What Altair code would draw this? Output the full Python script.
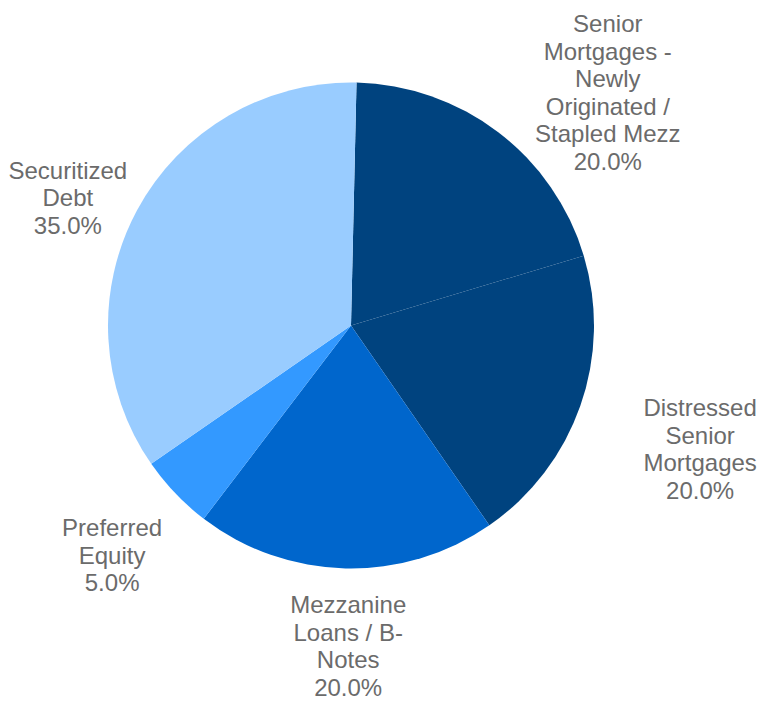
import math
import altair as alt
import pandas as pd

categories = [
    "Senior Mortgages - Newly Originated / Stapled Mezz",
    "Distressed Senior Mortgages",
    "Mezzanine Loans / B-Notes",
    "Preferred Equity",
    "Securitized Debt",
]
label_lines = [
    ["Senior", "Mortgages -", "Newly", "Originated /", "Stapled Mezz"],
    ["Distressed", "Senior", "Mortgages"],
    ["Mezzanine", "Loans / B-", "Notes"],
    ["Preferred", "Equity"],
    ["Securitized", "Debt"],
]
shares = [20.0, 20.0, 20.0, 5.0, 35.0]
colors = ["#00437f", "#00437f", "#0066cc", "#3399ff", "#99ccff"]

total = sum(shares)
df = pd.DataFrame({
    "idx": list(range(len(categories))),
    "category": categories,
    "share": shares,
    "label": ["\n".join(l + [f"{s / total:.1%}"]) for l, s in zip(label_lines, shares)],
})

# label placement tweaks (radius, dx, dy) per slice
label_pos = [(300, 75, 7), (300, 66, 26), (300, 4, 22), (300, -22, 24), (300, -19, 16)]
LH = 27.5

CX, CY, R = 343, 317.5, 243
rot = math.radians(1.3)
theta_scale = alt.Scale(range=[rot, rot + 2 * math.pi])

base = alt.Chart(df)

pie = base.mark_arc(radius=R, stroke=None).encode(
    theta=alt.Theta("share:Q", stack=True, scale=theta_scale),
    color=alt.Color("category:N", scale=alt.Scale(domain=categories, range=colors), legend=None),
    order=alt.Order("idx:Q"),
    x=alt.value(CX),
    y=alt.value(CY),
)

layers = [pie]
for i, (r, dx, dy) in enumerate(label_pos):
    n_lines = len(label_lines[i]) + 1
    t = base.transform_window(
        cum="sum(share)", sort=[alt.SortField("idx")], frame=[None, 0]
    ).transform_calculate(
        mid="datum.cum - datum.share / 2"
    ).transform_filter(
        alt.datum.idx == i
    ).mark_text(
        radius=r, dx=dx, dy=dy - (n_lines - 1) * LH / 2, fontSize=24, lineHeight=LH,
        font="Liberation Sans", color="#6b6b6b", align="center",
        baseline="middle", lineBreak="\n",
    ).encode(
        theta=alt.Theta("mid:Q", stack=False, scale=theta_scale),
        text="label:N",
        x=alt.value(CX),
        y=alt.value(CY),
    )
    layers.append(t)

chart = alt.layer(*layers).properties(
    width=749, height=693,
    autosize=alt.AutoSizeParams(type="none"),
    padding=0,
).configure_view(stroke=None)

chart.save("out.html", embed_options={"renderer": "svg", "actions": False})
